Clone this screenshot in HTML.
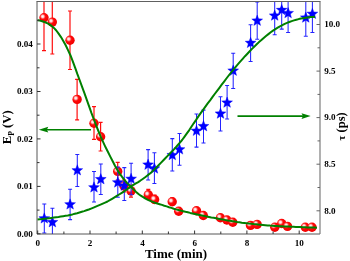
<!DOCTYPE html><html><head><meta charset="utf-8"><title>plot</title>
<style>html,body{margin:0;padding:0;background:#fff;overflow:hidden}svg{display:block}text{font-family:"Liberation Serif",serif;font-weight:bold;fill:#000}</style></head><body>
<svg width="350" height="261" viewBox="0 0 350 261">
<defs><radialGradient id="rb" cx="0.37" cy="0.37" r="0.63" fx="0.36" fy="0.36"><stop offset="0" stop-color="#ffffff"/><stop offset="0.2" stop-color="#ffd0d0"/><stop offset="0.38" stop-color="#ff4040"/><stop offset="0.5" stop-color="#ff0808"/><stop offset="1" stop-color="#f00000"/></radialGradient>
<clipPath id="cp"><rect x="37.0" y="1.5" width="283.0" height="232.5"/></clipPath></defs>
<rect width="350" height="261" fill="#fff"/>
<g clip-path="url(#cp)">
<g stroke="#ff0c0c" stroke-width="1.2" fill="none">
<path d="M44.0,-10.0V50.6M42.0,-10.0h4.0M42.0,50.6h4.0"/>
<path d="M52.3,-10.0V54.0M50.3,-10.0h4.0M50.3,54.0h4.0"/>
<path d="M70.0,11.0V69.5M68.0,11.0h4.0M68.0,69.5h4.0"/>
<path d="M77.1,79.4V119.9M75.1,79.4h4.0M75.1,119.9h4.0"/>
<path d="M94.0,106.7V139.4M92.0,106.7h4.0M92.0,139.4h4.0"/>
<path d="M100.6,122.4V151.0M98.6,122.4h4.0M98.6,151.0h4.0"/>
<path d="M117.7,162.4V180.0M115.7,162.4h4.0M115.7,180.0h4.0"/>
<path d="M124.0,180.0V192.0M122.0,180.0h4.0M122.0,192.0h4.0"/>
<path d="M131.0,185.0V197.2M129.0,185.0h4.0M129.0,197.2h4.0"/>
<path d="M148.3,189.4V199.5M146.3,189.4h4.0M146.3,199.5h4.0"/>
<path d="M154.6,195.0V203.5M152.6,195.0h4.0M152.6,203.5h4.0"/>
<path d="M172.2,198.0V205.5M170.2,198.0h4.0M170.2,205.5h4.0"/>
<path d="M178.7,208.0V214.0M176.7,208.0h4.0M176.7,214.0h4.0"/>
<path d="M196.5,208.0V213.0M194.5,208.0h4.0M194.5,213.0h4.0"/>
<path d="M203.3,213.0V217.0M201.3,213.0h4.0M201.3,217.0h4.0"/>
<path d="M220.4,215.0V219.0M218.4,215.0h4.0M218.4,219.0h4.0"/>
<path d="M226.9,218.0V221.0M224.9,218.0h4.0M224.9,221.0h4.0"/>
<path d="M232.8,220.0V223.0M230.8,220.0h4.0M230.8,223.0h4.0"/>
<path d="M250.5,224.0V226.0M248.5,224.0h4.0M248.5,226.0h4.0"/>
<path d="M257.1,223.0V225.0M255.1,223.0h4.0M255.1,225.0h4.0"/>
<path d="M274.8,226.0V228.0M272.8,226.0h4.0M272.8,228.0h4.0"/>
<path d="M281.7,222.0V225.0M279.7,222.0h4.0M279.7,225.0h4.0"/>
<path d="M287.5,225.0V228.0M285.5,225.0h4.0M285.5,228.0h4.0"/>
<path d="M305.3,226.0V228.0M303.3,226.0h4.0M303.3,228.0h4.0"/>
<path d="M312.0,226.0V228.0M310.0,226.0h4.0M310.0,228.0h4.0"/>
</g>
<circle cx="44.0" cy="17.8" r="4.7" fill="url(#rb)"/>
<circle cx="52.3" cy="22.1" r="4.7" fill="url(#rb)"/>
<circle cx="70.0" cy="40.3" r="4.7" fill="url(#rb)"/>
<circle cx="77.1" cy="99.4" r="4.7" fill="url(#rb)"/>
<circle cx="94.0" cy="123.3" r="4.7" fill="url(#rb)"/>
<circle cx="100.6" cy="136.7" r="4.7" fill="url(#rb)"/>
<circle cx="117.7" cy="171.4" r="4.7" fill="url(#rb)"/>
<circle cx="124.0" cy="186.0" r="4.7" fill="url(#rb)"/>
<circle cx="131.0" cy="190.9" r="4.7" fill="url(#rb)"/>
<circle cx="148.3" cy="194.8" r="4.7" fill="url(#rb)"/>
<circle cx="154.6" cy="199.5" r="4.7" fill="url(#rb)"/>
<circle cx="172.2" cy="201.8" r="4.7" fill="url(#rb)"/>
<circle cx="178.7" cy="211.3" r="4.7" fill="url(#rb)"/>
<circle cx="196.5" cy="210.8" r="4.7" fill="url(#rb)"/>
<circle cx="203.3" cy="215.5" r="4.7" fill="url(#rb)"/>
<circle cx="220.4" cy="217.7" r="4.7" fill="url(#rb)"/>
<circle cx="226.9" cy="220.0" r="4.7" fill="url(#rb)"/>
<circle cx="232.8" cy="222.3" r="4.7" fill="url(#rb)"/>
<circle cx="250.5" cy="225.4" r="4.7" fill="url(#rb)"/>
<circle cx="257.1" cy="224.4" r="4.7" fill="url(#rb)"/>
<circle cx="274.8" cy="227.2" r="4.7" fill="url(#rb)"/>
<circle cx="281.7" cy="223.5" r="4.7" fill="url(#rb)"/>
<circle cx="287.5" cy="226.4" r="4.7" fill="url(#rb)"/>
<circle cx="305.3" cy="227.2" r="4.7" fill="url(#rb)"/>
<circle cx="312.0" cy="227.2" r="4.7" fill="url(#rb)"/>
<g stroke="#2424ff" stroke-width="1.05" fill="none">
<path d="M44.3,203.9V232.9M42.3,203.9h4.0M42.3,232.9h4.0"/>
<path d="M52.4,208.2V240.0M50.4,208.2h4.0M50.4,240.0h4.0"/>
<path d="M70.1,189.2V219.6M68.1,189.2h4.0M68.1,219.6h4.0"/>
<path d="M77.3,154.4V186.5M75.3,154.4h4.0M75.3,186.5h4.0"/>
<path d="M94.0,171.5V201.9M92.0,171.5h4.0M92.0,201.9h4.0"/>
<path d="M100.8,163.9V194.5M98.8,163.9h4.0M98.8,194.5h4.0"/>
<path d="M117.8,167.0V197.2M115.8,167.0h4.0M115.8,197.2h4.0"/>
<path d="M124.3,167.6V200.4M122.3,167.6h4.0M122.3,200.4h4.0"/>
<path d="M131.1,163.3V194.7M129.1,163.3h4.0M129.1,194.7h4.0"/>
<path d="M148.1,149.6V180.0M146.1,149.6h4.0M146.1,180.0h4.0"/>
<path d="M154.4,152.7V183.5M152.4,152.7h4.0M152.4,183.5h4.0"/>
<path d="M172.3,138.6V170.9M170.3,138.6h4.0M170.3,170.9h4.0"/>
<path d="M179.5,133.5V165.3M177.5,133.5h4.0M177.5,165.3h4.0"/>
<path d="M196.5,113.9V147.1M194.5,113.9h4.0M194.5,147.1h4.0"/>
<path d="M203.5,110.1V143.0M201.5,110.1h4.0M201.5,143.0h4.0"/>
<path d="M220.5,96.8V130.9M218.5,96.8h4.0M218.5,130.9h4.0"/>
<path d="M227.1,85.4V119.0M225.1,85.4h4.0M225.1,119.0h4.0"/>
<path d="M233.2,53.3V88.5M231.2,53.3h4.0M231.2,88.5h4.0"/>
<path d="M250.6,24.8V61.5M248.6,24.8h4.0M248.6,61.5h4.0"/>
<path d="M257.2,2.0V39.2M255.2,2.0h4.0M255.2,39.2h4.0"/>
<path d="M274.7,-5.0V34.7M272.7,-5.0h4.0M272.7,34.7h4.0"/>
<path d="M281.7,-5.0V29.1M279.7,-5.0h4.0M279.7,29.1h4.0"/>
<path d="M288.1,-5.0V32.4M286.1,-5.0h4.0M286.1,32.4h4.0"/>
<path d="M305.8,-5.0V36.2M303.8,-5.0h4.0M303.8,36.2h4.0"/>
<path d="M312.4,-5.0V32.4M310.4,-5.0h4.0M310.4,32.4h4.0"/>
</g>
<polygon points="44.30,212.80 45.74,216.52 49.72,216.74 46.63,219.26 47.65,223.11 44.30,220.95 40.95,223.11 41.97,219.26 38.88,216.74 42.86,216.52" fill="#0000ff" stroke="#0000ff" stroke-width="0.4" stroke-linejoin="miter"/>
<polygon points="52.40,216.60 53.84,220.32 57.82,220.54 54.73,223.06 55.75,226.91 52.40,224.75 49.05,226.91 50.07,223.06 46.98,220.54 50.96,220.32" fill="#0000ff" stroke="#0000ff" stroke-width="0.4" stroke-linejoin="miter"/>
<polygon points="70.10,198.80 71.54,202.52 75.52,202.74 72.43,205.26 73.45,209.11 70.10,206.95 66.75,209.11 67.77,205.26 64.68,202.74 68.66,202.52" fill="#0000ff" stroke="#0000ff" stroke-width="0.4" stroke-linejoin="miter"/>
<polygon points="77.30,164.70 78.74,168.42 82.72,168.64 79.63,171.16 80.65,175.01 77.30,172.85 73.95,175.01 74.97,171.16 71.88,168.64 75.86,168.42" fill="#0000ff" stroke="#0000ff" stroke-width="0.4" stroke-linejoin="miter"/>
<polygon points="94.00,181.80 95.44,185.52 99.42,185.74 96.33,188.26 97.35,192.11 94.00,189.95 90.65,192.11 91.67,188.26 88.58,185.74 92.56,185.52" fill="#0000ff" stroke="#0000ff" stroke-width="0.4" stroke-linejoin="miter"/>
<polygon points="100.80,173.60 102.24,177.32 106.22,177.54 103.13,180.06 104.15,183.91 100.80,181.75 97.45,183.91 98.47,180.06 95.38,177.54 99.36,177.32" fill="#0000ff" stroke="#0000ff" stroke-width="0.4" stroke-linejoin="miter"/>
<polygon points="117.80,176.90 119.24,180.62 123.22,180.84 120.13,183.36 121.15,187.21 117.80,185.05 114.45,187.21 115.47,183.36 112.38,180.84 116.36,180.62" fill="#0000ff" stroke="#0000ff" stroke-width="0.4" stroke-linejoin="miter"/>
<polygon points="124.30,180.10 125.74,183.82 129.72,184.04 126.63,186.56 127.65,190.41 124.30,188.25 120.95,190.41 121.97,186.56 118.88,184.04 122.86,183.82" fill="#0000ff" stroke="#0000ff" stroke-width="0.4" stroke-linejoin="miter"/>
<polygon points="131.10,173.20 132.54,176.92 136.52,177.14 133.43,179.66 134.45,183.51 131.10,181.35 127.75,183.51 128.77,179.66 125.68,177.14 129.66,176.92" fill="#0000ff" stroke="#0000ff" stroke-width="0.4" stroke-linejoin="miter"/>
<polygon points="148.10,159.10 149.54,162.82 153.52,163.04 150.43,165.56 151.45,169.41 148.10,167.25 144.75,169.41 145.77,165.56 142.68,163.04 146.66,162.82" fill="#0000ff" stroke="#0000ff" stroke-width="0.4" stroke-linejoin="miter"/>
<polygon points="154.40,162.90 155.84,166.62 159.82,166.84 156.73,169.36 157.75,173.21 154.40,171.05 151.05,173.21 152.07,169.36 148.98,166.84 152.96,166.62" fill="#0000ff" stroke="#0000ff" stroke-width="0.4" stroke-linejoin="miter"/>
<polygon points="172.30,149.50 173.74,153.22 177.72,153.44 174.63,155.96 175.65,159.81 172.30,157.65 168.95,159.81 169.97,155.96 166.88,153.44 170.86,153.22" fill="#0000ff" stroke="#0000ff" stroke-width="0.4" stroke-linejoin="miter"/>
<polygon points="179.50,143.80 180.94,147.52 184.92,147.74 181.83,150.26 182.85,154.11 179.50,151.95 176.15,154.11 177.17,150.26 174.08,147.74 178.06,147.52" fill="#0000ff" stroke="#0000ff" stroke-width="0.4" stroke-linejoin="miter"/>
<polygon points="196.50,125.20 197.94,128.92 201.92,129.14 198.83,131.66 199.85,135.51 196.50,133.35 193.15,135.51 194.17,131.66 191.08,129.14 195.06,128.92" fill="#0000ff" stroke="#0000ff" stroke-width="0.4" stroke-linejoin="miter"/>
<polygon points="203.50,120.60 204.94,124.32 208.92,124.54 205.83,127.06 206.85,130.91 203.50,128.75 200.15,130.91 201.17,127.06 198.08,124.54 202.06,124.32" fill="#0000ff" stroke="#0000ff" stroke-width="0.4" stroke-linejoin="miter"/>
<polygon points="220.50,108.00 221.94,111.72 225.92,111.94 222.83,114.46 223.85,118.31 220.50,116.15 217.15,118.31 218.17,114.46 215.08,111.94 219.06,111.72" fill="#0000ff" stroke="#0000ff" stroke-width="0.4" stroke-linejoin="miter"/>
<polygon points="227.10,97.00 228.54,100.72 232.52,100.94 229.43,103.46 230.45,107.31 227.10,105.15 223.75,107.31 224.77,103.46 221.68,100.94 225.66,100.72" fill="#0000ff" stroke="#0000ff" stroke-width="0.4" stroke-linejoin="miter"/>
<polygon points="233.20,65.10 234.64,68.82 238.62,69.04 235.53,71.56 236.55,75.41 233.20,73.25 229.85,75.41 230.87,71.56 227.78,69.04 231.76,68.82" fill="#0000ff" stroke="#0000ff" stroke-width="0.4" stroke-linejoin="miter"/>
<polygon points="250.60,37.30 252.04,41.02 256.02,41.24 252.93,43.76 253.95,47.61 250.60,45.45 247.25,47.61 248.27,43.76 245.18,41.24 249.16,41.02" fill="#0000ff" stroke="#0000ff" stroke-width="0.4" stroke-linejoin="miter"/>
<polygon points="257.20,15.10 258.64,18.82 262.62,19.04 259.53,21.56 260.55,25.41 257.20,23.25 253.85,25.41 254.87,21.56 251.78,19.04 255.76,18.82" fill="#0000ff" stroke="#0000ff" stroke-width="0.4" stroke-linejoin="miter"/>
<polygon points="274.70,10.00 276.14,13.72 280.12,13.94 277.03,16.46 278.05,20.31 274.70,18.15 271.35,20.31 272.37,16.46 269.28,13.94 273.26,13.72" fill="#0000ff" stroke="#0000ff" stroke-width="0.4" stroke-linejoin="miter"/>
<polygon points="281.70,4.40 283.14,8.12 287.12,8.34 284.03,10.86 285.05,14.71 281.70,12.55 278.35,14.71 279.37,10.86 276.28,8.34 280.26,8.12" fill="#0000ff" stroke="#0000ff" stroke-width="0.4" stroke-linejoin="miter"/>
<polygon points="288.10,7.50 289.54,11.22 293.52,11.44 290.43,13.96 291.45,17.81 288.10,15.65 284.75,17.81 285.77,13.96 282.68,11.44 286.66,11.22" fill="#0000ff" stroke="#0000ff" stroke-width="0.4" stroke-linejoin="miter"/>
<polygon points="305.80,12.00 307.24,15.72 311.22,15.94 308.13,18.46 309.15,22.31 305.80,20.15 302.45,22.31 303.47,18.46 300.38,15.94 304.36,15.72" fill="#0000ff" stroke="#0000ff" stroke-width="0.4" stroke-linejoin="miter"/>
<polygon points="312.40,8.20 313.84,11.92 317.82,12.14 314.73,14.66 315.75,18.51 312.40,16.35 309.05,18.51 310.07,14.66 306.98,12.14 310.96,11.92" fill="#0000ff" stroke="#0000ff" stroke-width="0.4" stroke-linejoin="miter"/>
<path d="M37.5,20.2 L39.8,20.6 L42.2,21.2 L44.5,22.0 L46.9,23.0 L49.2,24.3 L51.6,25.9 L53.9,27.9 L56.3,30.5 L58.6,33.7 L61.0,37.1 L63.3,40.9 L65.7,45.3 L68.0,50.1 L70.4,55.2 L72.7,61.1 L75.1,67.7 L77.4,74.2 L79.8,80.5 L82.1,86.9 L84.5,93.3 L86.8,99.9 L89.2,106.6 L91.5,113.2 L93.9,119.5 L96.2,125.6 L98.6,131.5 L100.9,137.1 L103.3,142.3 L105.6,147.3 L108.0,152.0 L110.3,156.6 L112.7,161.3 L115.0,165.8 L117.4,170.0 L119.7,173.6 L122.1,176.9 L124.4,179.9 L126.8,182.6 L129.1,185.0 L131.4,187.2 L133.8,189.6 L136.1,191.9 L138.5,194.0 L140.8,195.7 L143.2,197.2 L145.5,198.6 L147.9,199.8 L150.2,200.8 L152.6,201.8 L154.9,202.7 L157.3,203.5 L159.6,204.2 L162.0,204.9 L164.3,205.7 L166.7,206.4 L169.0,207.2 L171.4,207.9 L173.7,208.7 L176.1,209.4 L178.4,210.0 L180.8,210.6 L183.1,211.2 L185.5,211.8 L187.8,212.3 L190.2,212.9 L192.5,213.4 L194.9,213.9 L197.2,214.4 L199.6,214.9 L201.9,215.4 L204.3,215.9 L206.6,216.4 L209.0,216.9 L211.3,217.4 L213.7,217.8 L216.0,218.3 L218.4,218.8 L220.7,219.2 L223.1,219.6 L225.4,220.1 L227.7,220.5 L230.1,220.8 L232.4,221.2 L234.8,221.6 L237.1,222.0 L239.5,222.3 L241.8,222.7 L244.2,223.0 L246.5,223.3 L248.9,223.6 L251.2,223.8 L253.6,224.1 L255.9,224.3 L258.3,224.6 L260.6,224.8 L263.0,225.0 L265.3,225.2 L267.7,225.4 L270.0,225.6 L272.4,225.7 L274.7,225.9 L277.1,226.0 L279.4,226.2 L281.8,226.3 L284.1,226.4 L286.5,226.5 L288.8,226.6 L291.2,226.7 L293.5,226.8 L295.9,226.9 L298.2,227.0 L300.6,227.1 L302.9,227.2 L305.3,227.3 L307.6,227.4 L310.0,227.5 L312.3,227.6 L314.7,227.6 L317.0,227.7" fill="none" stroke="#008000" stroke-width="2" stroke-linejoin="round"/>
<path d="M37.5,219.4 L39.8,219.2 L42.2,219.0 L44.5,218.7 L46.8,218.5 L49.2,218.2 L51.5,217.9 L53.8,217.6 L56.2,217.3 L58.5,217.0 L60.8,216.6 L63.2,216.2 L65.5,215.8 L67.8,215.4 L70.1,214.9 L72.5,214.4 L74.8,213.8 L77.1,213.2 L79.5,212.5 L81.8,211.8 L84.1,211.1 L86.5,210.3 L88.8,209.5 L91.1,208.6 L93.5,207.6 L95.8,206.6 L98.1,205.6 L100.5,204.6 L102.8,203.6 L105.1,202.6 L107.5,201.5 L109.8,200.2 L112.1,198.8 L114.5,197.3 L116.8,195.9 L119.1,194.5 L121.4,193.1 L123.8,191.6 L126.1,190.0 L128.4,188.3 L130.8,186.7 L133.1,185.1 L135.4,183.7 L137.8,182.3 L140.1,180.8 L142.4,179.2 L144.8,177.5 L147.1,175.7 L149.4,173.9 L151.8,171.9 L154.1,169.7 L156.4,167.4 L158.8,165.0 L161.1,162.6 L163.4,160.2 L165.8,157.8 L168.1,155.4 L170.4,153.0 L172.8,150.6 L175.1,148.1 L177.4,145.5 L179.7,142.8 L182.1,140.0 L184.4,136.9 L186.7,133.7 L189.1,130.3 L191.4,126.8 L193.7,123.3 L196.1,119.9 L198.4,116.4 L200.7,113.1 L203.1,109.8 L205.4,106.6 L207.7,103.4 L210.1,100.3 L212.4,97.1 L214.7,94.0 L217.1,90.9 L219.4,87.8 L221.7,84.7 L224.1,81.6 L226.4,78.5 L228.7,75.5 L231.1,72.5 L233.4,69.6 L235.7,66.9 L238.0,64.1 L240.4,61.4 L242.7,58.8 L245.0,56.2 L247.4,53.7 L249.7,51.3 L252.0,48.9 L254.4,46.6 L256.7,44.3 L259.0,42.1 L261.4,40.1 L263.7,38.0 L266.0,36.0 L268.4,34.1 L270.7,32.3 L273.0,30.6 L275.4,29.1 L277.7,27.7 L280.0,26.3 L282.4,25.1 L284.7,23.9 L287.0,22.9 L289.3,22.0 L291.7,21.1 L294.0,20.4 L296.3,19.7 L298.7,19.1 L301.0,18.6 L303.3,18.2 L305.7,17.8 L308.0,17.4 L310.3,17.1 L312.7,16.9 L315.0,16.8" fill="none" stroke="#008000" stroke-width="2" stroke-linejoin="round"/>
</g>
<g stroke="#008000" stroke-width="1.6" fill="#008000">
<path d="M91,129.7H46" fill="none"/><path d="M38.8,129.7L48.3,126.8L46.8,129.7L48.3,132.6Z" stroke="none"/>
<path d="M237.5,116.1H303.5" fill="none"/><path d="M310.7,116.1L301.5,113.2L303,116.1L301.5,119Z" stroke="none"/>
</g>
<path d="M37.0,1.5V234.0H320.0" fill="none" stroke="#444" stroke-width="0.9"/>
<path d="M320.0,1.5V234.0" fill="none" stroke="#707070" stroke-width="1.1"/>
<path d="M36.5,1.5H320.5" fill="none" stroke="#606060" stroke-width="1"/>
<path d="M37.7,234.0v-3.5 M63.9,234.0v-2.5 M90.0,234.0v-3.5 M116.1,234.0v-2.5 M142.3,234.0v-3.5 M168.4,234.0v-2.5 M194.6,234.0v-3.5 M220.8,234.0v-2.5 M246.9,234.0v-3.5 M273.1,234.0v-2.5 M299.2,234.0v-3.5 M37.0,233.8h3.5 M37.0,210.1h2.5 M37.0,186.4h3.5 M37.0,162.6h2.5 M37.0,138.9h3.5 M37.0,115.2h2.5 M37.0,91.5h3.5 M37.0,67.8h2.5 M37.0,44.0h3.5 M37.0,20.3h2.5" stroke="#333" stroke-width="1" fill="none"/>
<path d="M320.0,210.8h-3.5 M320.0,187.5h-2.5 M320.0,164.2h-3.5 M320.0,140.9h-2.5 M320.0,117.6h-3.5 M320.0,94.4h-2.5 M320.0,71.1h-3.5 M320.0,47.8h-2.5 M320.0,24.5h-3.5" stroke="#666" stroke-width="1" fill="none"/>
<text x="32.9" y="236.8" font-size="9.1" text-anchor="end">0.00</text>
<text x="32.9" y="189.4" font-size="9.1" text-anchor="end">0.01</text>
<text x="32.9" y="141.9" font-size="9.1" text-anchor="end">0.02</text>
<text x="32.9" y="94.4" font-size="9.1" text-anchor="end">0.03</text>
<text x="32.9" y="47.0" font-size="9.1" text-anchor="end">0.04</text>
<text x="324.2" y="213.5" font-size="9.1">8.0</text>
<text x="324.2" y="166.9" font-size="9.1">8.5</text>
<text x="324.2" y="120.3" font-size="9.1">9.0</text>
<text x="324.2" y="73.8" font-size="9.1">9.5</text>
<text x="324.2" y="27.2" font-size="9.1">10.0</text>
<text x="37.8" y="245.6" font-size="9.1" text-anchor="middle">0</text>
<text x="90.1" y="245.6" font-size="9.1" text-anchor="middle">2</text>
<text x="142.4" y="245.6" font-size="9.1" text-anchor="middle">4</text>
<text x="194.7" y="245.6" font-size="9.1" text-anchor="middle">6</text>
<text x="247.0" y="245.6" font-size="9.1" text-anchor="middle">8</text>
<text x="299.3" y="245.6" font-size="9.1" text-anchor="middle">10</text>
<text x="176" y="257.8" font-size="13" text-anchor="middle">Time (min)</text>
<text transform="translate(11.2,127.3) rotate(-90)" font-size="12.7" text-anchor="middle">E<tspan font-size="7.8" dy="3.1">P</tspan><tspan dy="-3.1"> (V)</tspan></text>
<text transform="translate(345.4,140.4) rotate(-90)" font-size="12.5"><tspan font-size="10.5">τ</tspan> (ps)</text>
</svg></body></html>
